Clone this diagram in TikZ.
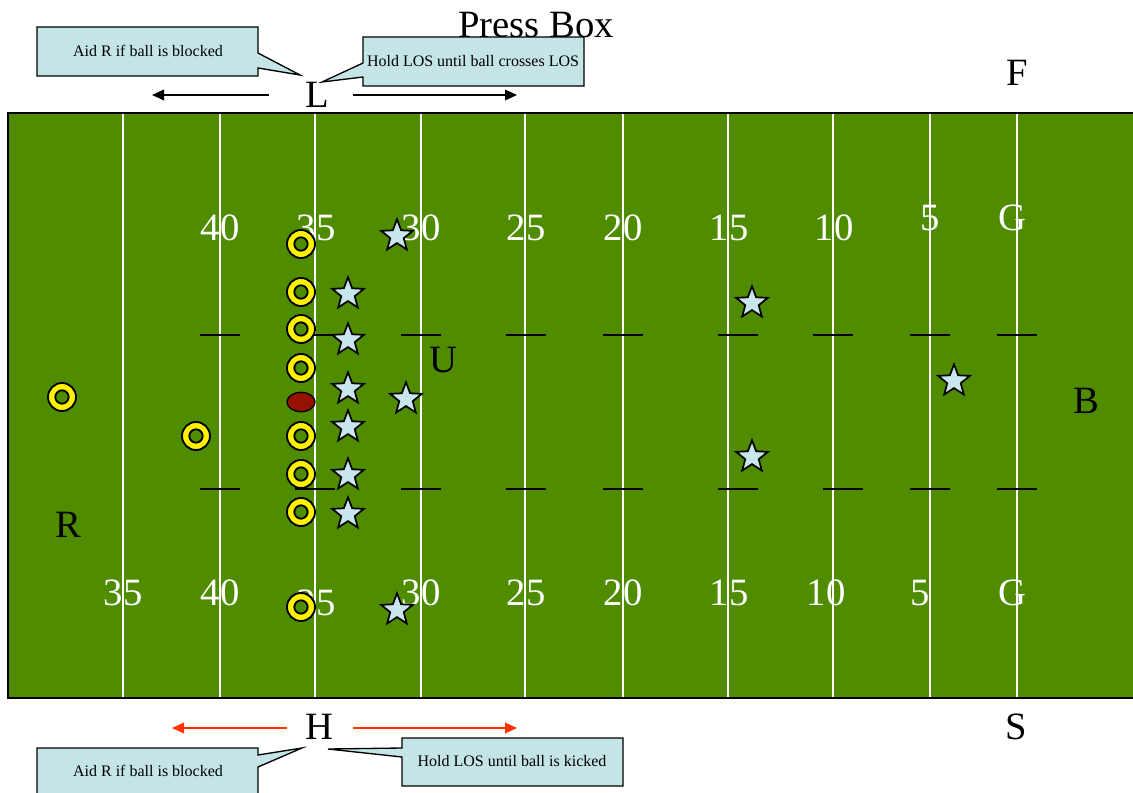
\documentclass[tikz,border=0pt]{standalone}
\usepackage{fontspec}
\setmainfont{Liberation Serif}
\usetikzlibrary{shapes.geometric,arrows.meta}
\definecolor{turf}{RGB}{79,140,0}
\definecolor{starblue}{RGB}{200,230,236}
\definecolor{calloutblue}{RGB}{196,228,230}
\definecolor{ballred}{RGB}{150,18,0}
\definecolor{arrowred}{RGB}{255,51,0}
\begin{document}
\begin{tikzpicture}[x=0.75pt,y=-0.75pt,
  bigtext/.style={font=\fontsize{29}{34}\selectfont,inner sep=0pt},
  numtext/.style={bigtext,text=white},
  smalltext/.style={font=\fontsize{12}{14}\selectfont,inner sep=0pt},
  yardline/.style={draw=white,line width=1.5pt},
  hashline/.style={draw=black,line width=1.1pt},
  callout/.style={draw=black,fill=calloutblue,line width=1pt,line join=miter},
  ring/.style={circle,draw=black,fill=yellow,line width=1.4pt,minimum size=21pt,inner sep=0pt,
    path picture={\draw[black,fill=turf,line width=1.4pt] (path picture bounding box.center) circle[radius=5pt];}},
  defender/.style={star,star points=5,star point ratio=2.35,draw=black,fill=starblue,line width=1.3pt,minimum size=25pt,inner sep=0pt},
  football/.style={ellipse,draw=black,fill=ballred,line width=1pt,minimum width=21pt,minimum height=14.5pt,inner sep=0pt},
  blackarrow/.style={draw=black,line width=1pt,-{Triangle[length=9pt,width=8pt]}},
  redarrow/.style={draw=arrowred,line width=1pt,-{Triangle[length=9pt,width=8pt]}}
]
\useasboundingbox (0,0) rectangle (1133,793);

% Press box label (behind callout)
\node[bigtext] (press) at (536,25) {Press Box};

% field
\fill[turf] (8,113) rectangle (1145,698);

% yard lines
\foreach \x in {123,220,315,421,525,623,728,833,930,1017}
  \draw[yardline] (\x,113) -- (\x,698);

% numbers top row
\node[numtext] (t40) at (220,228) {40};
\node[numtext] (t35) at (316,228) {35};
\node[numtext] (t30) at (421,228) {30};
\node[numtext] (t25) at (526,228) {25};
\node[numtext] (t20) at (623,228) {20};
\node[numtext] (t15) at (729,228) {15};
\node[numtext] (t10) at (834,228) {10};
\node[numtext] (t5) at (930,218) {5};
\node[numtext] (tG) at (1012,218) {G};
% numbers bottom row
\node[numtext] (b35a) at (123,593) {35};
\node[numtext] (b40) at (220,593) {40};
\node[numtext] (b35) at (316,603) {35};
\node[numtext] (b30) at (421,593) {30};
\node[numtext] (b25) at (526,593) {25};
\node[numtext] (b20) at (623,593) {20};
\node[numtext] (b15) at (729,593) {15};
\node[numtext] (b10) at (826,593) {10};
\node[numtext] (b5) at (920,593) {5};
\node[numtext] (bG) at (1012,593) {G};

% hash marks
\foreach \x in {200,295,401,506,603,718,813,910,997}
  \draw[hashline] (\x,335) -- ++(40,0);
\foreach \x in {200,295,401,506,603,718,823,910,997}
  \draw[hashline] (\x,489) -- ++(40,0);

% field border
\draw[black,line width=2.2pt] (8,113) rectangle (1145,698);

% offense (rings)
\node[ring] (o1) at (301,244) {};
\node[ring] (o2) at (301,292) {};
\node[ring] (o3) at (301,329) {};
\node[ring] (o4) at (301,368) {};
\node[ring] (o5) at (301,436) {};
\node[ring] (o6) at (301,474) {};
\node[ring] (o7) at (301,512) {};
\node[ring] (o8) at (301,607) {};
\node[ring] (o9) at (196,436) {};
\node[ring] (o10) at (62,397) {};
\node[football] (ball) at (301,402) {};

% defense (stars)
\node[defender] (d1) at (397,236) {};
\node[defender] (d2) at (348,294) {};
\node[defender] (d3) at (348,340) {};
\node[defender] (d4) at (348,389) {};
\node[defender] (d5) at (406,399) {};
\node[defender] (d6) at (348,427) {};
\node[defender] (d7) at (348,475) {};
\node[defender] (d8) at (348,514) {};
\node[defender] (d9) at (397,610) {};
\node[defender] (d10) at (752,303) {};
\node[defender] (d11) at (752,457) {};
\node[defender] (d12) at (954,381) {};

% official letters
\node[bigtext] (L) at (317,95) {L};
\node[bigtext] (F) at (1017,73) {F};
\node[bigtext] (U) at (443,360) {U};
\node[bigtext] (B) at (1086,401) {B};
\node[bigtext] (R) at (68,525) {R};
\node[bigtext] (H) at (319,727) {H};
\node[bigtext] (S) at (1016,727) {S};

% arrows
\coordinate (la1) at (269,95);
\coordinate (la2) at (152,95);
\coordinate (ra1) at (353,95);
\coordinate (ra2) at (517,95);
\coordinate (lh1) at (287,728);
\coordinate (lh2) at (172,728);
\coordinate (rh1) at (353,728);
\coordinate (rh2) at (517,728);
\draw[blackarrow] (la1) -- (la2);
\draw[blackarrow] (ra1) -- (ra2);
\draw[redarrow] (lh1) -- (lh2);
\draw[redarrow] (rh1) -- (rh2);

% callouts
\draw[callout] (37,27) -- (258,27) -- (258,53) -- (300,75) -- (258,68) -- (258,76) -- (37,76) -- cycle;
\node[smalltext] (c1) at (148,51) {Aid R if ball is blocked};
\draw[callout] (363,37) -- (584,37) -- (584,86) -- (363,86) -- (363,77) -- (322,82) -- (363,63) -- cycle;
\node[smalltext] (c2) at (473,61) {Hold LOS until ball crosses LOS};
\draw[callout] (37,748) -- (258,748) -- (258,755) -- (302,748) -- (258,767) -- (258,800) -- (37,800) -- cycle;
\node[smalltext] (c3) at (148,771) {Aid R if ball is blocked};
\draw[callout] (402,738) -- (623,738) -- (623,786) -- (402,786) -- (402,757) -- (328,749) -- (402,748) -- cycle;
\node[smalltext] (c4) at (512,761) {Hold LOS until ball is kicked};
\end{tikzpicture}
\end{document}
